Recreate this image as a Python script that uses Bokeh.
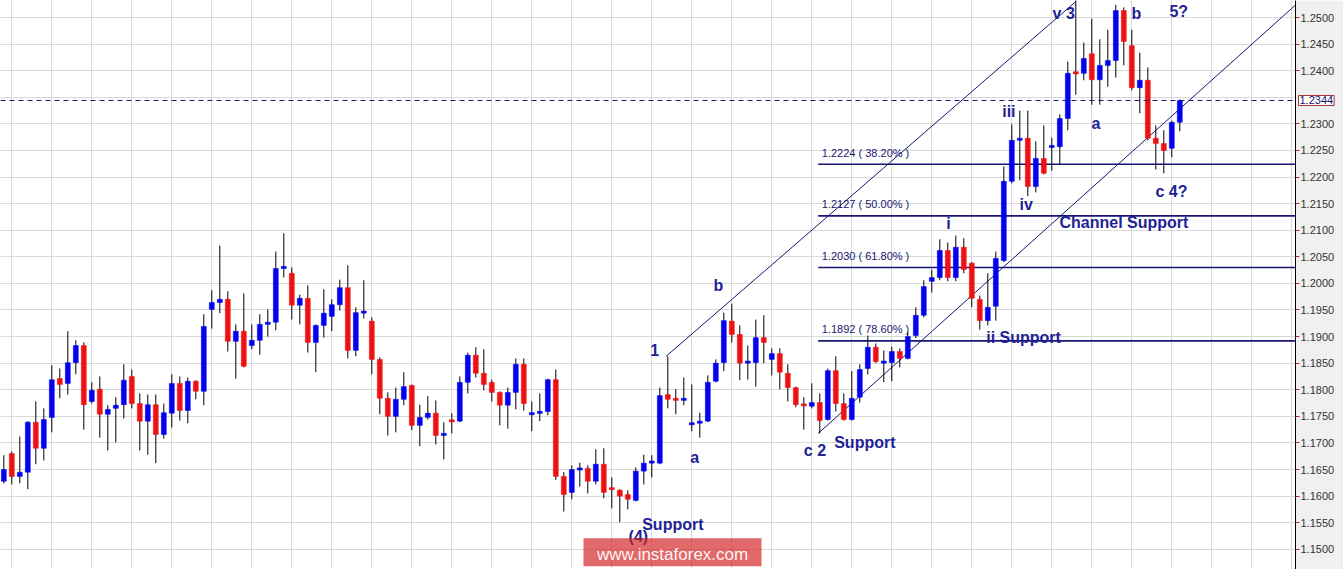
from bokeh.plotting import figure
from bokeh.models import ColumnDataSource, Span, Label, FixedTicker, PrintfTickFormatter, Range1d, BoxAnnotation
from bokeh.embed import file_html
from bokeh.resources import INLINE
from bokeh.core.properties import value

# ---- candle data ----
opens = [1.1628,1.1680,1.1637,1.1645,1.1739,1.1690,1.1748,1.1821,1.1812,1.1851,
         1.1883,1.1778,1.1801,1.1754,1.1765,1.1772,1.1825,1.1774,1.1741,1.1772,
         1.1716,1.1756,1.1812,1.1761,1.1816,1.1797,1.1951,1.1964,1.1970,1.1891,
         1.1910,1.1883,1.1893,1.1923,1.1927,1.2028,1.2019,1.1959,1.1972,1.1889,
         1.1921,1.1938,1.1960,1.1992,1.1874,1.1945,1.1929,1.1857,1.1784,1.1750,
         1.1782,1.1808,1.1733,1.1748,1.1756,1.1714,1.1742,1.1741,1.1814,1.1865,
         1.1831,1.1814,1.1795,1.1771,1.1795,1.1848,1.1754,1.1756,1.1759,1.1819,
         1.1637,1.1607,1.1650,1.1652,1.1628,1.1660,1.1615,1.1611,1.1603,1.1592,
         1.1647,1.1663,1.1662,1.1791,1.1784,1.1780,1.1735,1.1737,1.1741,1.1816,
         1.1851,1.1929,1.1904,1.1851,1.1851,1.1898,1.1857,1.1868,1.1831,1.1804,
         1.1772,1.1769,1.1776,1.1744,1.1836,1.1774,1.1744,1.1786,1.1840,1.1880,
         1.1851,1.1851,1.1872,1.1859,1.1902,1.1940,1.2004,1.2011,1.2062,1.2011,
         1.2068,1.2038,1.1970,1.1930,1.1957,1.2043,1.2192,1.2269,1.2273,1.2182,
         1.2235,1.2256,1.2257,1.2310,1.2397,1.2395,1.2432,1.2383,1.2410,1.2419,
         1.2513,1.2447,1.2368,1.2382,1.2273,1.2263,1.2254,1.2303]
highs = [1.1677,1.1684,1.1712,1.1741,1.1778,1.1765,1.1846,1.1840,1.1910,1.1893,
         1.1889,1.1814,1.1825,1.1771,1.1786,1.1848,1.1838,1.1793,1.1791,1.1791,
         1.1774,1.1829,1.1825,1.1823,1.1818,1.1942,1.1987,1.2071,1.1985,1.1923,
         1.1981,1.1923,1.1942,1.1951,1.2060,1.2094,1.2030,1.1979,1.1996,1.1923,
         1.1989,1.1970,1.2007,1.2034,1.1955,1.2006,1.1936,1.1861,1.1795,1.1804,
         1.1833,1.1810,1.1772,1.1788,1.1780,1.1739,1.1756,1.1825,1.1870,1.1880,
         1.1876,1.1819,1.1797,1.1804,1.1859,1.1859,1.1778,1.1793,1.1821,1.1838,
         1.1645,1.1658,1.1663,1.1658,1.1688,1.1690,1.1635,1.1613,1.1611,1.1654,
         1.1678,1.1677,1.1804,1.1863,1.1801,1.1823,1.1810,1.1757,1.1827,1.1857,
         1.1945,1.1962,1.1921,1.1883,1.1932,1.1940,1.1878,1.1878,1.1848,1.1806,
         1.1786,1.1812,1.1793,1.1840,1.1863,1.1793,1.1835,1.1848,1.1902,1.1887,
         1.1874,1.1881,1.1878,1.1908,1.1955,1.2006,1.2026,1.2083,1.2077,1.2090,
         1.2085,1.2040,1.1977,1.2019,1.2060,1.2220,1.2299,1.2325,1.2325,1.2267,
         1.2297,1.2274,1.2318,1.2417,1.2545,1.2453,1.2498,1.2459,1.2477,1.2524,
         1.2519,1.2477,1.2434,1.2406,1.2297,1.2288,1.2306,1.2346]
lows = [1.1624,1.1622,1.1624,1.1613,1.1660,1.1667,1.1720,1.1784,1.1791,1.1829,
        1.1725,1.1774,1.1710,1.1686,1.1701,1.1746,1.1765,1.1686,1.1678,1.1662,
        1.1708,1.1729,1.1742,1.1737,1.1782,1.1771,1.1915,1.1944,1.1872,1.1821,
        1.1842,1.1876,1.1866,1.1900,1.1912,1.2011,1.1932,1.1923,1.1870,1.1833,
        1.1898,1.1910,1.1949,1.1859,1.1863,1.1934,1.1829,1.1754,1.1714,1.1720,
        1.1771,1.1724,1.1694,1.1744,1.1697,1.1669,1.1718,1.1739,1.1793,1.1823,
        1.1799,1.1778,1.1733,1.1727,1.1763,1.1761,1.1722,1.1741,1.1752,1.1630,
        1.1571,1.1594,1.1618,1.1605,1.1622,1.1596,1.1577,1.1551,1.1575,1.1590,
        1.1622,1.1635,1.1660,1.1765,1.1754,1.1771,1.1722,1.1710,1.1739,1.1814,
        1.1835,1.1889,1.1818,1.1819,1.1806,1.1850,1.1827,1.1801,1.1778,1.1767,
        1.1725,1.1765,1.1718,1.1742,1.1759,1.1742,1.1742,1.1776,1.1829,1.1850,
        1.1814,1.1816,1.1842,1.1857,1.1897,1.1936,1.1983,1.2006,1.2004,1.2004,
        1.2019,1.1955,1.1913,1.1921,1.1930,1.2040,1.2188,1.2194,1.2164,1.2171,
        1.2205,1.2212,1.2224,1.2288,1.2355,1.2382,1.2336,1.2336,1.2370,1.2387,
        1.2410,1.2363,1.2320,1.2269,1.2214,1.2207,1.2237,1.2286]
closes = [1.1650,1.1637,1.1645,1.1739,1.1690,1.1744,1.1819,1.1810,1.1851,1.1883,
          1.1772,1.1799,1.1754,1.1763,1.1771,1.1818,1.1774,1.1741,1.1772,1.1716,
          1.1757,1.1812,1.1761,1.1816,1.1797,1.1919,1.1964,1.1970,1.1891,1.1910,
          1.1844,1.1893,1.1923,1.1927,1.2028,1.2032,1.1959,1.1972,1.1889,1.1921,
          1.1944,1.1960,1.1992,1.1874,1.1945,1.1947,1.1857,1.1784,1.1750,1.1782,
          1.1806,1.1733,1.1748,1.1756,1.1714,1.1718,1.1741,1.1814,1.1865,1.1831,
          1.1810,1.1795,1.1771,1.1795,1.1848,1.1774,1.1756,1.1759,1.1819,1.1637,
          1.1603,1.1650,1.1652,1.1628,1.1660,1.1607,1.1613,1.1600,1.1594,1.1647,
          1.1662,1.1665,1.1789,1.1782,1.1780,1.1784,1.1737,1.1741,1.1814,1.1850,
          1.1930,1.1904,1.1850,1.1853,1.1898,1.1889,1.1868,1.1833,1.1804,1.1772,
          1.1771,1.1776,1.1742,1.1836,1.1774,1.1744,1.1784,1.1838,1.1880,1.1853,
          1.1853,1.1872,1.1859,1.1900,1.1940,1.1994,1.2011,1.2062,1.2011,1.2068,
          1.2026,1.1972,1.1930,1.1955,1.2047,1.2192,1.2269,1.2273,1.2182,1.2235,
          1.2207,1.2259,1.2310,1.2395,1.2395,1.2423,1.2383,1.2410,1.2419,1.2513,
          1.2455,1.2368,1.2382,1.2273,1.2263,1.2250,1.2303,1.2344]

last_price = 1.2344
y_ticks = [1.15 + 0.005 * k for k in range(21)]

# Fibonacci retracement levels
fib_levels = [1.2224, 1.2127, 1.2030, 1.1892]
fib_labels = ["1.2224 ( 38.20% )", "1.2127 ( 50.00% )", "1.2030 ( 61.80% )", "1.1892 ( 78.60% )"]
fib_start = 101.8

# Channel lines (anchor points: bar index, price)
upper_x = [82.8, 134.0]
upper_y = [1.1863, 1.2530]
lower_x = [101.8, 161.5]
lower_y = [1.1718, 1.2524]

# Wave annotations
ann_text = ["v 3", "b", "5?", "iii", "a", "iv", "c 4?", "Channel Support", "i", "b", "1",
            "ii  Support", "a", "c 2", "Support", "Support", "(4)"]
ann_x = [131.1, 140.97, 145.7, 124.8, 135.96, 126.97, 143.96, 131.96, 117.8, 88.7, 80.8,
         122.8, 85.8, 100.0, 103.8, 79.8, 78.1]
ann_y = [1.2507, 1.2507, 1.2511, 1.2323, 1.2300, 1.2148, 1.2173, 1.2114, 1.2112, 1.1996, 1.1875,
         1.1898, 1.1672, 1.1686, 1.1701, 1.1546, 1.1524]

# ---- derived ----
BLUE = "#0000ee"
RED = "#ee1111"
NAVY = "#1f1f96"
LINE_NAVY = "#161670"

n = len(opens)
idx = list(range(n))
tops, bots, cols = [], [], []
for o, c in zip(opens, closes):
    t, b = max(o, c), min(o, c)
    if t - b < 0.0004:
        m = (t + b) / 2
        t, b = m + 0.0002, m - 0.0002
    tops.append(t)
    bots.append(b)
    cols.append(BLUE if c >= o else RED)

src = ColumnDataSource(dict(x=idx, top=tops, bottom=bots, high=highs, low=lows, color=cols))

FW, FH = 1295, 569
x0 = -0.4125
x1 = x0 + FW / 8.0

p = figure(frame_width=FW, frame_height=FH, output_backend="svg", toolbar_location=None,
           x_range=Range1d(x0, x1), y_range=Range1d(1.1462, 1.2532),
           x_axis_location=None, y_axis_location="right",
           min_border=0, min_border_left=0, min_border_right=48, min_border_top=0, min_border_bottom=0)
p.outline_line_color = None
p.background_fill_color = "white"
p.border_fill_color = "#f0f0f0"

p.xgrid.ticker = FixedTicker(ticks=[0.925 + 5 * k for k in range(34)])
p.ygrid.ticker = FixedTicker(ticks=y_ticks)
p.grid.grid_line_color = "#d9d9d9"
p.grid.grid_line_width = 1

ax = p.yaxis[0]
# the tick label hidden behind the last-price box is left out
ax.ticker = FixedTicker(ticks=[t for t in y_ticks if abs(t - last_price) > 0.001])
ax.formatter = PrintfTickFormatter(format="%.4f")
ax.axis_line_color = "black"
ax.axis_line_width = 1
ax.major_tick_line_color = "#b03030"
ax.major_tick_out = 4
ax.major_tick_in = 0
ax.minor_tick_line_color = None
ax.major_label_standoff = 1
ax.major_label_text_font = "Liberation Sans"
ax.major_label_text_font_size = "11px"
ax.major_label_text_color = "#333333"

# channel lines
p.line(upper_x, upper_y, line_color=LINE_NAVY, line_width=1)
p.line(lower_x, lower_y, line_color=LINE_NAVY, line_width=1)

# fib lines and labels
fsrc = ColumnDataSource(dict(x0=[fib_start] * len(fib_levels), x1=[x1 + 1] * len(fib_levels),
                             y=fib_levels, lab=fib_labels,
                             lx=[fib_start + 0.45] * len(fib_levels),
                             ly=[v + 0.0022 for v in fib_levels]))
p.segment(x0="x0", y0="y", x1="x1", y1="y", source=fsrc, line_color=LINE_NAVY, line_width=1.6)
p.text(x="lx", y="ly", text="lab", source=fsrc, text_font=value("Liberation Sans"),
       text_font_size="11px", text_color=LINE_NAVY, text_baseline="alphabetic", text_align="left")

# dashed last-price line
p.add_layout(Span(location=last_price, dimension="width", line_color=LINE_NAVY,
                  line_dash="5 4", line_width=1))

# candles
p.segment(x0="x", y0="low", x1="x", y1="high", source=src, line_color="black", line_width=1)
p.vbar(x="x", width=0.62, top="top", bottom="bottom", source=src,
       fill_color="color", line_color="color", line_width=0.5)

# annotations
asrc = ColumnDataSource(dict(x=ann_x, y=ann_y, t=ann_text))
p.text(x="x", y="y", text="t", source=asrc, text_font=value("Liberation Sans"),
       text_font_style="bold", text_font_size="16px", text_color=NAVY,
       text_baseline="alphabetic", text_align="left")

# watermark
p.add_layout(BoxAnnotation(left=72.46, right=94.71, bottom=1.1468, top=1.1521,
                           fill_color="#d42a2a", fill_alpha=0.7, line_color=None))
p.add_layout(Label(x=83.6, y=1.1490, text="www.instaforex.com", text_align="center",
                   text_baseline="alphabetic", text_color="white", text_alpha=0.95,
                   text_font="Liberation Sans", text_font_size="17px"))

# last price box on the axis (in the right side panel, so it is not clipped to the frame)
p.add_layout(Label(x=FW + 3, y=last_price, x_units="canvas", text="1.2344", text_align="left",
                   text_baseline="middle", text_color=LINE_NAVY, text_font="Liberation Sans",
                   text_font_size="11px", border_line_color="#a83232", border_line_width=1,
                   background_fill_color="white", padding=1), "right")

open("out.html", "w").write(file_html(p, INLINE))
